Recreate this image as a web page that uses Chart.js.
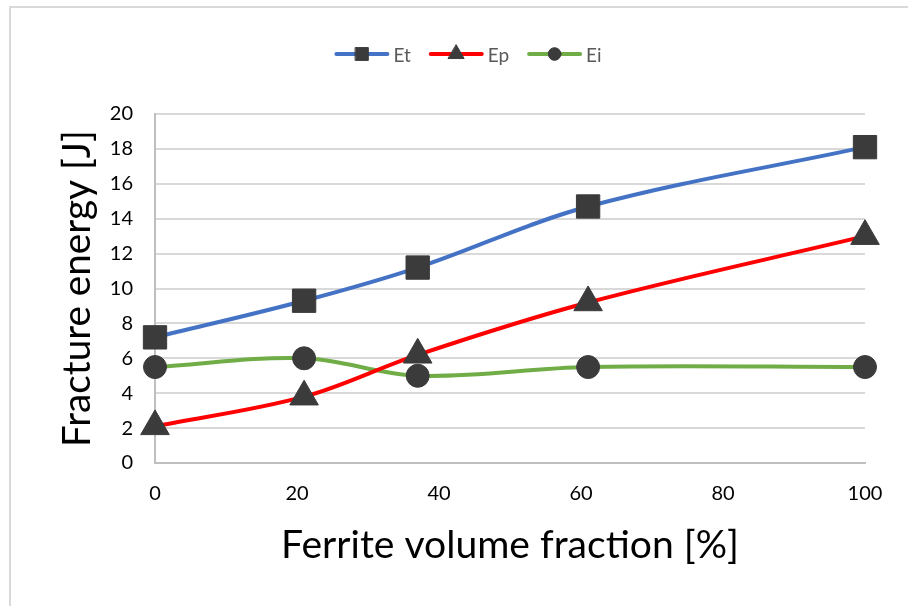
<!DOCTYPE html>
<html lang="en">
<head>
<meta charset="utf-8">
<title>Fracture energy</title>
<script src="https://cdn.jsdelivr.net/npm/chart.js"></script>
<style>
    html, body { margin: 0; padding: 0; background: #fff; overflow: hidden; }
    #marco { position: absolute; left: 9px; top: 6px; width: 1000px; height: 1000px; border: 2px solid #d9d9d9; }
    #contenedor { position: absolute; left: 0; top: 0; width: 908px; height: 606px; }
</style>
</head>
<body>
<div id="marco"></div>
<div id="contenedor"><canvas id="grafico" width="908" height="606"></canvas></div>
<script>
// Valores
const fraccionFerrita = [0, 21, 37, 61, 100];
const energiaEt = [7.2, 9.3, 11.2, 14.7, 18.1];
const energiaEp = [2.1, 3.8, 6.2, 9.2, 13.0];
const energiaEi = [5.5, 6.0, 5.0, 5.5, 5.5];
const nombresSeries = ["Et", "Ep", "Ei"];
const ticksX = [0, 20, 40, 60, 80, 100];
const ticksY = [0, 2, 4, 6, 8, 10, 12, 14, 16, 18, 20];
const tituloX = "Ferrite volume fraction [%]";
const tituloY = "Fracture energy [J]";

const FUENTE = "Lato, 'Noto Sans', sans-serif";
const COLOR_MARCADOR = "#3b3b3b";

const GraficoFractura = {
    grafico: null,

    // tamaño de letra para que el texto ocupe el mismo largo que en el original
    tamanoParaLargo(texto, largo) {
        const ctx = document.createElement("canvas").getContext("2d");
        ctx.font = "100px " + FUENTE;
        return Math.round(100 * largo / ctx.measureText(texto).width * 10) / 10;
    },

    crearSerie(nombre, valores, color, marcador, radio) {
        return {
            label: nombre,
            data: valores.map((v, i) => ({ x: fraccionFerrita[i], y: v })),
            borderColor: color,
            backgroundColor: color,
            borderWidth: 4,
            tension: 0.35,
            pointStyle: marcador,
            pointRadius: radio,
            pointHoverRadius: radio,
            pointBackgroundColor: COLOR_MARCADOR,
            pointBorderColor: COLOR_MARCADOR,
            pointBorderWidth: 1,
            clip: false,
            leyendaRadio: radio * 0.55
        };
    },

    // Leyenda tipo Excel: linea con marcador en el centro
    leyenda: {
        id: "leyendaExcel",
        afterDraw(chart) {
            const ctx = chart.ctx;
            const yCentro = 54;
            const largoLinea = 55;
            const separacionTexto = 4;
            const separacionItems = 18;
            ctx.save();
            ctx.font = "19px " + FUENTE;
            const items = chart.data.datasets.map(ds => ({
                ds: ds,
                ancho: largoLinea + separacionTexto + ctx.measureText(ds.label).width
            }));
            const total = items.reduce((s, it) => s + it.ancho, 0) + separacionItems * (items.length - 1);
            let x = 468 - total / 2;
            items.forEach(it => {
                ctx.strokeStyle = it.ds.borderColor;
                ctx.lineWidth = 4;
                ctx.lineCap = "round";
                ctx.beginPath();
                ctx.moveTo(x + 2, yCentro);
                ctx.lineTo(x + largoLinea - 2, yCentro);
                ctx.stroke();
                ctx.fillStyle = COLOR_MARCADOR;
                ctx.strokeStyle = COLOR_MARCADOR;
                ctx.lineWidth = 1;
                if (Chart.helpers && Chart.helpers.drawPoint) {
                    Chart.helpers.drawPoint(ctx, {
                        pointStyle: it.ds.pointStyle,
                        radius: it.ds.leyendaRadio,
                        borderWidth: 1,
                        rotation: 0
                    }, x + largoLinea / 2, yCentro);
                }
                ctx.fillStyle = "#595959";
                ctx.textBaseline = "middle";
                ctx.textAlign = "left";
                ctx.fillText(it.ds.label, x + largoLinea + separacionTexto, yCentro + 2);
                x += it.ancho + separacionItems;
            });
            ctx.restore();
        }
    },

    renderizar() {
        const datasets = [
            this.crearSerie(nombresSeries[0], energiaEt, "#4472c4", "rect", 16.5),
            this.crearSerie(nombresSeries[1], energiaEp, "#ff0000", "triangle", 16.5),
            this.crearSerie(nombresSeries[2], energiaEi, "#70ad47", "circle", 11.5)
        ];

        const tamX = this.tamanoParaLargo(tituloX, 458);
        const tamY = this.tamanoParaLargo(tituloY, 317);

        const ctx = document.getElementById("grafico").getContext("2d");
        this.grafico = new Chart(ctx, {
            type: "line",
            data: { datasets: datasets },
            plugins: [this.leyenda],
            options: {
                responsive: false,
                animation: false,
                layout: { padding: { top: 114, left: 0, right: 43, bottom: 0 } },
                plugins: {
                    legend: { display: false },
                    tooltip: { enabled: false }
                },
                scales: {
                    x: {
                        type: "linear",
                        min: 0,
                        max: 100,
                        afterBuildTicks: scale => { scale.ticks = ticksX.map(v => ({ value: v })); },
                        afterFit: scale => { scale.height = 143; },
                        grid: { display: false, drawTicks: false },
                        border: { display: true, color: "#bfbfbf", width: 2 },
                        ticks: {
                            padding: 19,
                            color: "#000",
                            font: { family: FUENTE, size: 20 },
                            maxRotation: 0
                        },
                        title: {
                            display: true,
                            text: tituloX,
                            color: "#000",
                            font: { family: FUENTE, size: tamX },
                            padding: { top: 0, bottom: 61 - tamX * 0.6 }
                        }
                    },
                    y: {
                        type: "linear",
                        min: 0,
                        max: 20,
                        afterBuildTicks: scale => { scale.ticks = ticksY.map(v => ({ value: v })); },
                        afterFit: scale => { scale.width = 155; },
                        grid: { color: "#d9d9d9", lineWidth: 2, drawTicks: false },
                        border: { display: true, color: "#bfbfbf", width: 2 },
                        ticks: {
                            padding: 22,
                            color: "#000",
                            font: { family: FUENTE, size: 20 }
                        },
                        title: {
                            display: true,
                            text: tituloY,
                            color: "#000",
                            font: { family: FUENTE, size: tamY },
                            padding: { top: 78 - tamY * 0.6, bottom: 0 }
                        }
                    }
                }
            }
        });
    }
};

GraficoFractura.renderizar();
</script>
</body>
</html>
